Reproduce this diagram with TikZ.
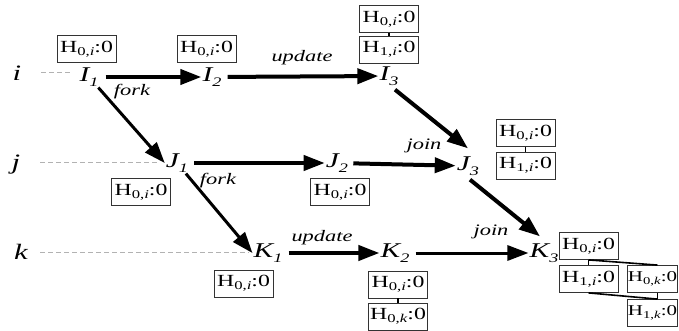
\documentclass[tikz,border=0pt]{standalone}
\usepackage{fontspec}
\setmainfont{Liberation Serif}[FakeStretch=1.4]
\usetikzlibrary{arrows.meta}
\newcommand{\nlab}[2]{#1\raisebox{-5pt}{\fontsize{13}{13}\selectfont #2}}
\newcommand{\hbx}[2]{H\raisebox{-0.2em}{\scalebox{0.7}{#1}}:#2}
\tikzset{
  rowlab/.style={font=\fontsize{22}{22}\selectfont\itshape, inner sep=0pt},
  evt/.style={font=\fontsize{21}{21}\selectfont\itshape, inner sep=1pt},
  hbox/.style={draw=black!80, line width=0.8pt, minimum width=59pt, minimum height=27pt,
    inner sep=0pt, font=\fontsize{17}{17}\selectfont},
  nbox/.style={hbox, minimum width=49pt, font=\fontsize{15}{15}\selectfont},
  elab/.style={font=\fontsize{16}{16}\selectfont\itshape, inner sep=0pt},
  tip/.style={-{Triangle[length=21pt,width=15pt]}},
  arthick/.style={tip, line width=4pt},
  arthin/.style={tip, line width=3pt},
  rowline/.style={draw=gray!60, line width=1pt, dash pattern=on 5pt off 3pt},
  link/.style={line width=1.6pt}
}
\begin{document}
\begin{tikzpicture}[x=1pt,y=-1pt]
\useasboundingbox (0,0) rectangle (679,331);
% row labels
\node[rowlab] (ri) at (17,73) {i};
\node[rowlab] (rj) at (16,165) {j};
\node[rowlab] (rk) at (21,252) {k};
% events
\node[evt] (I1) at (89,77) {\nlab{I}{1}};
\node[evt] (I2) at (212,77) {\nlab{I}{2}};
\node[evt] (I3) at (389,76) {\nlab{I}{3}};
\node[evt] (J1) at (177,163) {\nlab{J}{1}};
\node[evt] (J2) at (337,163) {\nlab{J}{2}};
\node[evt] (J3) at (468,166) {\nlab{J}{3}};
\node[evt] (K1) at (268,253) {\nlab{K}{1}};
\node[evt] (K2) at (395,253) {\nlab{K}{2}};
\node[evt] (K3) at (544,253) {\nlab{K}{3}};
% boxes
\node[hbox] (bI1) at (86.5,49) {\hbx{0,\textit{i}}{0}};
\node[hbox] (bI2) at (206.5,49) {\hbx{0,\textit{i}}{0}};
\node[hbox] (bI3a) at (389,19) {\hbx{0,\textit{i}}{0}};
\node[hbox] (bI3b) at (389,49.5) {\hbx{1,\textit{i}}{0}};
\node[hbox] (bJ1) at (141,192) {\hbx{0,\textit{i}}{0}};
\node[hbox] (bJ2) at (340,192) {\hbx{0,\textit{i}}{0}};
\node[hbox] (bJ3a) at (525.5,133) {\hbx{0,\textit{i}}{0}};
\node[hbox] (bJ3b) at (525.5,165.5) {\hbx{1,\textit{i}}{0}};
\node[hbox] (bK1) at (243.5,283.5) {\hbx{0,\textit{i}}{0}};
\node[hbox] (bK2a) at (398,284.5) {\hbx{0,\textit{i}}{0}};
\node[hbox] (bK2b) at (398,316.5) {\hbx{0,\textit{k}}{0}};
\node[hbox] (bK3a) at (588.5,246) {\hbx{0,\textit{i}}{0}};
\node[hbox] (bK3b) at (588.5,279) {\hbx{1,\textit{i}}{0}};
\node[nbox] (bK3c) at (652.5,279) {\hbx{0,\textit{k}}{0}};
\node[nbox] (bK3d) at (652.5,313) {\hbx{1,\textit{k}}{0}};
% box links
\draw[link] (bI3a.south) -- (bI3b.north);
\draw[link] (bJ3a.south) -- (bJ3b.north);
\draw[link] (bK2a.south) -- (bK2b.north);
\draw[link] (bK3a.south) -- (bK3b.north);
\draw[link] (bK3a.south) -- ([xshift=5pt]bK3c.north);
\draw[link] (bK3b.south) -- ([xshift=5pt]bK3d.north);
\draw[link] ([xshift=5pt]bK3c.south) -- ([xshift=5pt]bK3d.north);
% row lines
\draw[rowline] ([xshift=20pt]ri.east) -- ([xshift=-6pt]ri.east -| I1.west);
\draw[rowline] ([xshift=20pt]rj.east |- J1.west) -- ([xshift=-8pt]J1.west);
\draw[rowline] ([xshift=12pt]rk.east) -- ([xshift=-3pt]rk.east -| K1.west);
% edges
\draw[arthick, shorten <=6pt] (I1) -- (I2);
\draw[arthick, shorten <=5pt] (I2) -- (I3);
\draw[arthin] (I1) -- (J1.west);
\draw[arthick] ([xshift=6pt,yshift=-3pt]I3.south) -- ([yshift=7pt]J3.north);
\draw[arthick, shorten <=5pt] (J1) -- (J2);
\draw[arthick, shorten <=4pt] (J2) -- (J3);
\draw[arthin] (J1) -- (K1.west);
\draw[arthick] ([xshift=2pt,yshift=-3pt]J3.south) -- ([xshift=-4pt,yshift=6pt]K3.north);
\draw[arthick, shorten <=5pt] (K1) -- (K2);
\draw[arthin, shorten <=5pt] (K2) -- (K3);
% edge labels
\node[elab] (f1) at (132,92) {fork};
\node[elab] (u1) at (302,58) {update};
\node[elab] (j1) at (424,146) {join};
\node[elab] (f2) at (218,181) {fork};
\node[elab] (u2) at (322,238) {update};
\node[elab] (j2) at (491,232) {join};
\end{tikzpicture}
\end{document}
